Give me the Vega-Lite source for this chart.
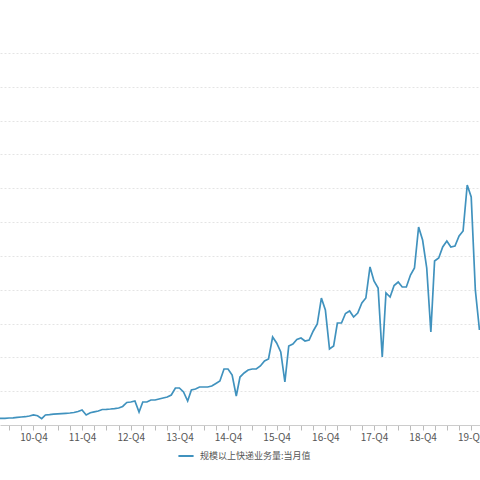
{
  "$schema": "https://vega.github.io/schema/vega-lite/v6.json",
  "width": 480,
  "height": 372,
  "autosize": {"type": "none"},
  "padding": {"top": 53, "left": 0, "right": 0, "bottom": 55},
  "background": "white",
  "config": {"view": {"stroke": null}, "font": "Noto Sans CJK SC"},
  "data": {"values": [
    {"date":"2010-03-01","v":1.54},{"date":"2010-04-01","v":1.58},{"date":"2010-05-01","v":1.58},{"date":"2010-06-01","v":1.66},
    {"date":"2010-07-01","v":1.70},{"date":"2010-08-01","v":1.80},{"date":"2010-09-01","v":1.89},{"date":"2010-10-01","v":1.96},
    {"date":"2010-11-01","v":2.13},{"date":"2010-12-01","v":2.37},{"date":"2011-01-01","v":2.20},{"date":"2011-02-01","v":1.49},
    {"date":"2011-03-01","v":2.37},{"date":"2011-04-01","v":2.44},{"date":"2011-05-01","v":2.55},{"date":"2011-06-01","v":2.63},
    {"date":"2011-07-01","v":2.70},{"date":"2011-08-01","v":2.77},{"date":"2011-09-01","v":2.84},{"date":"2011-10-01","v":2.96},
    {"date":"2011-11-01","v":3.19},{"date":"2011-12-01","v":3.55},{"date":"2012-01-01","v":2.37},{"date":"2012-02-01","v":2.91},
    {"date":"2012-03-01","v":3.12},{"date":"2012-04-01","v":3.31},{"date":"2012-05-01","v":3.67},{"date":"2012-06-01","v":3.71},
    {"date":"2012-07-01","v":3.78},{"date":"2012-08-01","v":3.88},{"date":"2012-09-01","v":4.02},{"date":"2012-10-01","v":4.38},
    {"date":"2012-11-01","v":5.32},{"date":"2012-12-01","v":5.44},{"date":"2013-01-01","v":5.68},{"date":"2013-02-01","v":3.08},
    {"date":"2013-03-01","v":5.44},{"date":"2013-04-01","v":5.44},{"date":"2013-05-01","v":5.91},{"date":"2013-06-01","v":5.91},
    {"date":"2013-07-01","v":6.15},{"date":"2013-08-01","v":6.39},{"date":"2013-09-01","v":6.62},{"date":"2013-10-01","v":7.10},
    {"date":"2013-11-01","v":8.75},{"date":"2013-12-01","v":8.75},{"date":"2014-01-01","v":7.81},{"date":"2014-02-01","v":5.68},
    {"date":"2014-03-01","v":8.28},{"date":"2014-04-01","v":8.52},{"date":"2014-05-01","v":8.99},{"date":"2014-06-01","v":8.99},
    {"date":"2014-07-01","v":8.99},{"date":"2014-08-01","v":9.23},{"date":"2014-09-01","v":9.82},{"date":"2014-10-01","v":10.41},
    {"date":"2014-11-01","v":13.25},{"date":"2014-12-01","v":13.25},{"date":"2015-01-01","v":11.83},{"date":"2015-02-01","v":6.86},
    {"date":"2015-03-01","v":11.35},{"date":"2015-04-01","v":12.30},{"date":"2015-05-01","v":13.01},{"date":"2015-06-01","v":13.25},
    {"date":"2015-07-01","v":13.25},{"date":"2015-08-01","v":13.96},{"date":"2015-09-01","v":15.14},{"date":"2015-10-01","v":15.61},
    {"date":"2015-11-01","v":20.82},{"date":"2015-12-01","v":19.40},{"date":"2016-01-01","v":17.27},{"date":"2016-02-01","v":10.17},
    {"date":"2016-03-01","v":18.69},{"date":"2016-04-01","v":19.16},{"date":"2016-05-01","v":20.23},{"date":"2016-06-01","v":20.58},
    {"date":"2016-07-01","v":19.87},{"date":"2016-08-01","v":20.11},{"date":"2016-09-01","v":22.24},{"date":"2016-10-01","v":23.89},
    {"date":"2016-11-01","v":30.04},{"date":"2016-12-01","v":27.20},{"date":"2017-01-01","v":17.98},{"date":"2017-02-01","v":18.69},
    {"date":"2017-03-01","v":24.13},{"date":"2017-04-01","v":24.13},{"date":"2017-05-01","v":26.38},{"date":"2017-06-01","v":26.97},
    {"date":"2017-07-01","v":25.55},{"date":"2017-08-01","v":26.49},{"date":"2017-09-01","v":28.86},{"date":"2017-10-01","v":30.04},
    {"date":"2017-11-01","v":37.38},{"date":"2017-12-01","v":34.06},{"date":"2018-01-01","v":32.41},{"date":"2018-02-01","v":16.09},
    {"date":"2018-03-01","v":31.23},{"date":"2018-04-01","v":30.28},{"date":"2018-05-01","v":33.00},{"date":"2018-06-01","v":33.83},
    {"date":"2018-07-01","v":32.65},{"date":"2018-08-01","v":32.65},{"date":"2018-09-01","v":35.48},{"date":"2018-10-01","v":37.14},
    {"date":"2018-11-01","v":46.84},{"date":"2018-12-01","v":43.76},{"date":"2019-01-01","v":37.14},{"date":"2019-02-01","v":22.00},
    {"date":"2019-03-01","v":38.80},{"date":"2019-04-01","v":39.51},{"date":"2019-05-01","v":42.11},{"date":"2019-06-01","v":43.53},
    {"date":"2019-07-01","v":42.11},{"date":"2019-08-01","v":42.34},{"date":"2019-09-01","v":44.71},{"date":"2019-10-01","v":45.89},
    {"date":"2019-11-01","v":56.77},{"date":"2019-12-01","v":53.94},{"date":"2020-01-01","v":31.94},{"date":"2020-02-01","v":22.47}
  ]},
  "transform": [{"calculate": "'规模以上快递业务量:当月值'", "as": "s"}],
  "mark": {"type": "line", "clip": true, "strokeWidth": 1.7, "interpolate": "linear"},
  "encoding": {
    "x": {
      "field": "date", "type": "temporal",
      "scale": {"domain": [{"year":2010,"month":3,"date":25},{"year":2020,"month":2,"date":5}]},
      "axis": {
        "title": null, "grid": false,
        "domainColor": "#cccccc", "tickColor": "#bbbbbb", "tickSize": 5,
        "labelColor": "#555555", "labelFontSize": 10, "labelPadding": 2,
        "labelFont": "Noto Sans CJK SC",
        "values": [
          {"year":2010,"month":6,"date":1},{"year":2010,"month":9,"date":1},{"year":2010,"month":12,"date":1},
          {"year":2011,"month":3,"date":1},{"year":2011,"month":6,"date":1},{"year":2011,"month":9,"date":1},{"year":2011,"month":12,"date":1},
          {"year":2012,"month":3,"date":1},{"year":2012,"month":6,"date":1},{"year":2012,"month":9,"date":1},{"year":2012,"month":12,"date":1},
          {"year":2013,"month":3,"date":1},{"year":2013,"month":6,"date":1},{"year":2013,"month":9,"date":1},{"year":2013,"month":12,"date":1},
          {"year":2014,"month":3,"date":1},{"year":2014,"month":6,"date":1},{"year":2014,"month":9,"date":1},{"year":2014,"month":12,"date":1},
          {"year":2015,"month":3,"date":1},{"year":2015,"month":6,"date":1},{"year":2015,"month":9,"date":1},{"year":2015,"month":12,"date":1},
          {"year":2016,"month":3,"date":1},{"year":2016,"month":6,"date":1},{"year":2016,"month":9,"date":1},{"year":2016,"month":12,"date":1},
          {"year":2017,"month":3,"date":1},{"year":2017,"month":6,"date":1},{"year":2017,"month":9,"date":1},{"year":2017,"month":12,"date":1},
          {"year":2018,"month":3,"date":1},{"year":2018,"month":6,"date":1},{"year":2018,"month":9,"date":1},{"year":2018,"month":12,"date":1},
          {"year":2019,"month":3,"date":1},{"year":2019,"month":6,"date":1},{"year":2019,"month":9,"date":1},{"year":2019,"month":12,"date":1}
        ],
        "labelExpr": "month(datum.value) == 11 ? timeFormat(datum.value, '%y') + '-Q4' : ''",
        "labelOverlap": false, "labelFlush": false
      }
    },
    "y": {
      "field": "v", "type": "quantitative",
      "scale": {"domain": [0, 88], "nice": false},
      "axis": {
        "title": null, "labels": false, "ticks": false, "domain": false,
        "values": [8,16,24,32,40,48,56,64,72,80,88],
        "grid": true, "gridColor": "#e4e4e4", "gridDash": [2, 2], "gridWidth": 1
      }
    },
    "color": {
      "field": "s", "type": "nominal",
      "scale": {"range": ["#4092be"]},
      "legend": {
        "title": null, "orient": "none", "legendX": 177, "legendY": 394,
        "symbolType": "stroke", "symbolStrokeWidth": 2, "symbolSize": 230,
        "labelFontSize": 9, "labelColor": "#555555", "labelFont": "Noto Sans CJK SC",
        "labelOffset": 5, "padding": 0
      }
    }
  }
}
